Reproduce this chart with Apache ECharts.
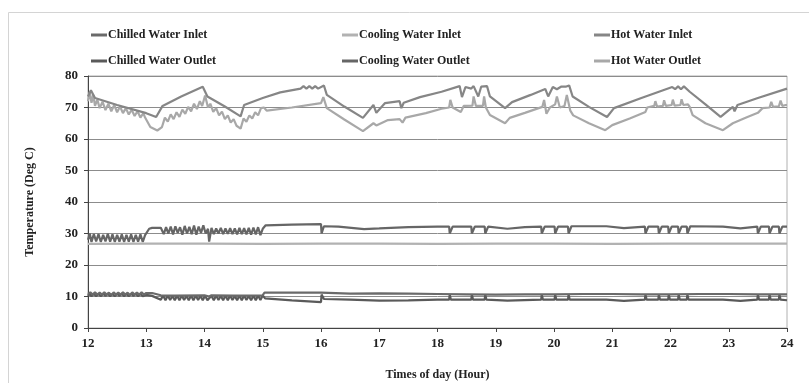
<!DOCTYPE html>
<html>
<head>
<meta charset="utf-8">
<script src="https://cdn.jsdelivr.net/npm/echarts@6/dist/echarts.min.js"></script>
<style>
  html,body{margin:0;padding:0;background:#fff;}
  #chart{width:809px;height:383px;}
</style>
</head>
<body>
<div id="chart"></div>
<script>
// temperatures, [hour, deg C]
var seriesNames = ['Chilled Water Inlet','Chilled Water Outlet','Cooling Water Inlet','Cooling Water Outlet','Hot Water Inlet','Hot Water Outlet'];
var xTicks = [12,13,14,15,16,17,18,19,20,21,22,23,24];
var yTicks = [0,10,20,30,40,50,60,70,80];

var hotInlet = [[12.0,73.5],[12.05,75.5],[12.12,73],[12.5,70.8],[13.0,68.2],[13.17,67],[13.28,70.5],[13.6,73.5],[13.97,76.6],[14.05,73.5],[14.35,70.3],[14.62,67.2],[14.68,70.8],[15.0,73],[15.3,74.8],[15.65,76],[15.7,76.8],[15.75,76],[15.8,76.8],[15.85,76],[15.9,76.8],[15.95,76],[16.05,77],[16.1,74],[16.4,70.3],[16.72,66.7],[16.9,70.8],[16.95,68.3],[17.1,71.4],[17.35,72],[17.38,69.8],[17.42,71.5],[17.7,73.3],[18.07,75],[18.38,76.8],[18.42,73.3],[18.48,76.5],[18.58,76],[18.62,76.8],[18.7,73.5],[18.75,76.6],[18.85,76.8],[18.9,73.5],[19.16,69.8],[19.28,71.7],[19.6,74],[19.85,75.9],[19.9,73.5],[19.98,76.5],[20.05,75.8],[20.12,76.6],[20.2,76.6],[20.26,77],[20.32,73.5],[20.6,70.2],[20.91,67],[21.03,69.8],[21.5,73],[22.03,76.5],[22.08,75.8],[22.13,76.7],[22.18,75.8],[22.23,76.7],[22.33,75],[22.6,71],[22.86,67],[23.07,70.2],[23.1,68.8],[23.15,70.8],[23.5,73],[24.0,76]];

var hotOutlet = [[12.0,72],[12.03,75],[12.06,71.5],[12.09,74],[12.12,70.5],[12.16,72.5],[12.2,69.8],[12.25,71.8],[12.3,69.2],[12.35,71.2],[12.4,68.8],[12.45,70.8],[12.5,68.5],[12.55,70.3],[12.6,68.2],[12.65,69.8],[12.7,67.8],[12.75,69.3],[12.8,67.3],[12.85,68.8],[12.9,66.8],[12.95,68.2],[12.98,66.8],[13.07,63.8],[13.19,62.7],[13.27,63.8],[13.32,66.8],[13.37,65.5],[13.42,67.8],[13.47,66.3],[13.52,68.5],[13.57,67],[13.62,69.3],[13.67,68],[13.72,70.2],[13.77,68.8],[13.82,71.2],[13.87,69.5],[13.92,72],[13.96,70.5],[14.01,73.8],[14.06,70],[14.1,71.2],[14.15,68.6],[14.2,69.8],[14.25,67.5],[14.3,68.7],[14.35,66.3],[14.4,67.5],[14.45,65.2],[14.5,66.3],[14.55,64.2],[14.62,63.3],[14.67,66.5],[14.72,65.5],[14.77,67.5],[14.82,66.5],[14.87,68.5],[14.92,67.5],[14.97,69.8],[15.02,70],[15.07,69],[15.5,70],[16.0,71.4],[16.04,73.3],[16.1,69.8],[16.4,66.2],[16.72,62.5],[16.9,65],[16.95,64.3],[17.15,66],[17.35,66.3],[17.4,65.2],[17.45,66.8],[17.8,68.2],[18.07,69.6],[18.2,70],[18.22,72.4],[18.26,70],[18.4,68.6],[18.45,70.5],[18.6,70.6],[18.62,73.5],[18.66,70.5],[18.78,70.5],[18.8,73.5],[18.83,70],[18.9,67.6],[19.16,65],[19.24,66.7],[19.5,68.3],[19.8,70.2],[19.83,72.4],[19.87,68],[19.93,70],[20.02,71],[20.05,73.5],[20.1,70],[20.18,70.5],[20.22,74],[20.28,69],[20.33,67.5],[20.6,65],[20.88,62.8],[21.0,64.4],[21.3,66.5],[21.57,68.6],[21.6,70],[21.72,70.5],[21.74,72],[21.77,70.3],[21.87,70.5],[21.89,72.3],[21.92,70.5],[22.02,70.8],[22.04,72.5],[22.07,70.6],[22.17,70.8],[22.19,72.6],[22.22,70.8],[22.3,71],[22.33,70.2],[22.38,67.6],[22.6,65],[22.9,62.8],[23.07,65],[23.3,66.8],[23.5,68.3],[23.58,69.8],[23.7,70],[23.73,71.8],[23.76,70.2],[23.86,70.4],[23.89,72.2],[23.92,70.5],[23.98,70.8],[24.0,70.8]];

var coolingInlet = [[12,26.7],[13,26.8],[14,26.8],[15,26.7],[16,26.8],[17,26.8],[18,26.7],[19,26.8],[20,26.8],[21,26.7],[22,26.8],[23,26.8],[24,26.8]];

var coolingOutlet = [[12.0,28],[12.03,30],[12.06,27.3],[12.1,29.8],[12.14,27.5],[12.18,29.8],[12.22,27.3],[12.26,29.6],[12.3,27.5],[12.34,29.9],[12.38,27.4],[12.42,29.7],[12.46,27.3],[12.5,29.6],[12.54,27.4],[12.58,29.7],[12.62,27.3],[12.66,29.6],[12.7,27.4],[12.74,29.7],[12.78,27.3],[12.82,29.6],[12.86,27.4],[12.9,29.7],[12.94,27.3],[12.98,29.5],[13.05,31.5],[13.1,31.8],[13.25,31.8],[13.3,29.8],[13.34,32],[13.38,30],[13.42,32.2],[13.46,29.7],[13.5,32.3],[13.54,30.2],[13.58,32],[13.62,29.6],[13.66,32.4],[13.7,30],[13.74,32.1],[13.78,29.8],[13.82,32.5],[13.86,29.6],[13.9,32.2],[13.94,30.2],[13.98,32.6],[14.02,30],[14.06,31.5],[14.08,27.4],[14.12,31.8],[14.16,29.8],[14.2,31.6],[14.24,30],[14.28,31.8],[14.32,29.8],[14.36,31.6],[14.4,29.9],[14.44,31.7],[14.48,29.8],[14.52,31.6],[14.56,29.7],[14.6,31.8],[14.64,29.8],[14.68,31.7],[14.72,29.7],[14.76,31.8],[14.8,29.6],[14.84,31.9],[14.88,29.7],[14.92,32],[14.96,29.5],[15.0,31.5],[15.05,32.6],[15.5,32.8],[16.0,33],[16.01,30],[16.05,32.3],[16.3,32.2],[16.74,31.4],[17.0,31.6],[17.2,31.8],[17.5,32],[18.0,32.2],[18.2,32.2],[18.21,30],[18.26,32.2],[18.58,32.2],[18.59,30],[18.64,32.2],[18.81,32.2],[18.82,30],[18.87,32.2],[19.2,31.5],[19.5,32],[19.78,32.2],[19.79,30],[19.84,32.2],[20.01,32.2],[20.02,30],[20.07,32.2],[20.24,32.2],[20.25,30],[20.3,32.3],[20.9,32.3],[21.2,31.7],[21.56,32.2],[21.57,30],[21.62,32.2],[21.79,32.2],[21.8,30],[21.85,32.2],[21.96,32.2],[21.97,30],[22.02,32.2],[22.13,32.2],[22.14,30],[22.19,32.2],[22.28,32.2],[22.29,30],[22.34,32.3],[22.9,32.2],[23.2,31.6],[23.49,32.2],[23.5,30],[23.55,32.2],[23.69,32.2],[23.7,30],[23.75,32.2],[23.86,32.2],[23.87,30],[23.92,32.2],[24.0,32.2]];

var chilledInlet = [[12.0,10.8],[12.04,11.3],[12.08,10.6],[12.12,11.3],[12.16,10.6],[12.2,11.2],[12.24,10.6],[12.28,11.3],[12.32,10.6],[12.36,11.2],[12.4,10.5],[12.44,11.3],[12.48,10.6],[12.52,11.2],[12.56,10.6],[12.6,11.3],[12.64,10.6],[12.68,11.2],[12.72,10.5],[12.76,11.3],[12.8,10.6],[12.84,11.2],[12.88,10.6],[12.92,11.3],[12.96,10.6],[13.0,11.1],[13.1,11.1],[13.25,10.4],[13.5,10.3],[14.0,10.4],[14.08,10.0],[14.12,10.4],[14.5,10.3],[15.0,10.4],[15.03,11.2],[16.0,11.2],[16.02,10.8],[16.5,10.9],[17.0,11.0],[17.5,10.9],[18.0,10.8],[18.5,10.7],[19.0,10.6],[19.5,10.7],[20.0,10.7],[20.5,10.8],[21.0,10.8],[21.5,10.7],[22.0,10.7],[22.5,10.8],[23.0,10.8],[23.5,10.7],[24.0,10.7]];

var chilledOutlet = [[12.0,10.2],[12.02,10.9],[12.06,10.1],[12.1,10.9],[12.14,10.1],[12.18,10.8],[12.22,10.1],[12.26,10.9],[12.3,10.2],[12.34,10.9],[12.38,10.1],[12.42,10.8],[12.46,10.1],[12.5,10.9],[12.54,10.2],[12.58,10.9],[12.62,10.1],[12.66,10.8],[12.7,10.1],[12.74,10.9],[12.78,10.2],[12.82,10.9],[12.86,10.1],[12.9,10.8],[12.94,10.1],[13.0,10.5],[13.1,10.2],[13.25,9.0],[13.29,10.3],[13.33,8.8],[13.37,10.3],[13.41,8.9],[13.45,10.2],[13.49,8.8],[13.53,10.3],[13.57,8.8],[13.61,10.3],[13.65,8.9],[13.69,10.2],[13.73,8.8],[13.77,10.3],[13.81,8.8],[13.85,10.3],[13.89,8.9],[13.93,10.2],[13.97,8.8],[14.01,10.3],[14.05,8.8],[14.08,8.3],[14.12,10.2],[14.16,8.8],[14.2,10.3],[14.24,8.9],[14.28,10.2],[14.32,8.8],[14.36,10.3],[14.4,8.8],[14.44,10.3],[14.48,8.9],[14.52,10.2],[14.56,8.8],[14.6,10.3],[14.64,8.8],[14.68,10.3],[14.72,8.9],[14.76,10.2],[14.8,8.8],[14.84,10.3],[14.88,8.8],[14.92,10.3],[14.96,8.9],[15.0,10.3],[15.04,9.4],[15.5,8.8],[16.0,8.2],[16.01,10.6],[16.05,9.2],[16.5,9.0],[17.0,8.7],[17.5,8.8],[18.0,9.0],[18.2,9.0],[18.21,10.6],[18.23,9.0],[18.58,9.0],[18.59,10.6],[18.61,9.0],[18.81,9.0],[18.82,10.6],[18.84,9.0],[19.2,8.7],[19.78,9.0],[19.79,10.6],[19.81,9.0],[20.01,9.0],[20.02,10.6],[20.04,9.0],[20.24,9.0],[20.25,10.6],[20.27,9.0],[20.9,9.0],[21.2,8.6],[21.56,9.0],[21.57,10.6],[21.59,9.0],[21.79,9.0],[21.8,10.6],[21.82,9.0],[21.96,9.0],[21.97,10.6],[21.99,9.0],[22.13,9.0],[22.14,10.6],[22.16,9.0],[22.28,9.0],[22.29,10.6],[22.31,9.0],[22.9,9.0],[23.2,8.6],[23.49,9.0],[23.5,10.6],[23.52,9.0],[23.69,9.0],[23.7,10.6],[23.72,9.0],[23.86,9.0],[23.87,10.6],[23.89,9.0],[24.0,8.8]];

var seriesData = [chilledInlet, chilledOutlet, coolingInlet, coolingOutlet, hotInlet, hotOutlet];
var seriesColors = ['#6a6a6a','#5a5a5a','#b2b2b2','#666666','#868686','#a8a8a8'];

var serif = '"Liberation Serif", "DejaVu Serif", serif';
var chart = echarts.init(document.getElementById('chart'));

function legendCol(left, names){
    return {
        orient:'vertical', left:left, top:23,
        data:names,
        icon:'rect', itemWidth:16, itemHeight:3, itemGap:12,
        textStyle:{fontFamily:serif, fontSize:12, fontWeight:'bold', color:'#222', padding:[0,0,0,-4], lineHeight:14},
        selectedMode:false
    }
}

var series = [];
for(var i=0;i<seriesNames.length;i++){
    series.push({
        name:seriesNames[i],
        type:'line',
        data:seriesData[i],
        showSymbol:false,
        color:seriesColors[i],
        lineStyle:{width:2.2, color:seriesColors[i]},
        z: 10 - i
    });
}

chart.setOption({
    animation:false,
    backgroundColor:'#fff',
    graphic:[{
        type:'rect', silent:true,
        shape:{x:8.5, y:12.5, width:900, height:500},
        style:{fill:'none', stroke:'#d4d4d4', lineWidth:1}
    }],
    legend:[
        legendCol(86, [seriesNames[0], seriesNames[1]]),
        legendCol(337, [seriesNames[2], seriesNames[3]]),
        legendCol(589, [seriesNames[4], seriesNames[5]])
    ],
    grid:{left:88, right:22, top:76, bottom:55, containLabel:false, outerBoundsMode:'none',
          show:true, borderColor:'#b0b0b0', borderWidth:1},
    xAxis:{
        type:'value', min:xTicks[0], max:xTicks[xTicks.length-1], interval:1,
        name:'Times of day (Hour)', nameLocation:'middle', nameGap:41,
        nameTextStyle:{fontFamily:serif, fontSize:12, fontWeight:'bold', color:'#222'},
        axisLine:{lineStyle:{color:'#444', width:1}},
        axisTick:{show:true, length:4, lineStyle:{color:'#444'}},
        axisLabel:{fontFamily:serif, fontSize:13, fontWeight:'bold', color:'#222', margin:9},
        splitLine:{show:false}
    },
    yAxis:{
        type:'value', min:yTicks[0], max:yTicks[yTicks.length-1], interval:10,
        name:'Temperature (Deg C)', nameLocation:'middle', nameGap:52,
        nameTextStyle:{fontFamily:serif, fontSize:12, fontWeight:'bold', color:'#222'},
        axisLine:{show:true, lineStyle:{color:'#444', width:1}},
        axisTick:{show:true, length:4, lineStyle:{color:'#444'}},
        axisLabel:{fontFamily:serif, fontSize:13, fontWeight:'bold', color:'#222', margin:10},
        splitLine:{show:true, lineStyle:{color:'#8c8c8c', width:1}}
    },
    series:series
});
</script>
</body>
</html>
